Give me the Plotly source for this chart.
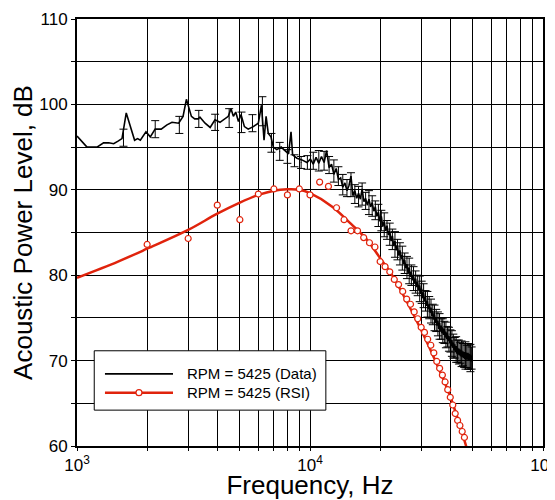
import plotly.graph_objects as go

# ---------------- data ----------------
# Measured spectrum (black line)
DATA_F = [1000, 1050, 1104, 1218, 1300, 1368, 1437, 1500, 1560, 1627, 1700, 1767, 1820, 1870,
          1977, 2063, 2165, 2298, 2433, 2557, 2731, 2852, 2948, 3020, 3097, 3200, 3310, 3370,
          3546, 3728, 3910, 4108, 4317, 4460, 4580, 4690, 4800, 4930, 5060, 5230, 5430, 5710,
          6000, 6190, 6350, 6480, 6620, 6800, 6960, 7200, 7520, 7840, 8090, 8290, 8420, 8790,
          9230, 9700, 10040,
          10328, 10620, 10911, 11203, 11494, 11786, 12077, 12369, 12660, 12952, 13243, 13535,
          13826, 14118, 14409, 14701, 14992, 15284, 15575, 15867, 16158, 16450, 16741, 17033,
          17324, 17616, 17907, 18199, 18490, 18782, 19073, 19365, 19656, 19948, 20239, 20531,
          20822, 21114, 21405, 21697, 21988, 22280, 22571, 22863, 23154, 23446, 23737, 24029,
          24320, 24612, 24903, 25195, 25486, 25778, 26069, 26361, 26652, 26944, 27235, 27527,
          27818, 28110, 28401, 28693, 28984, 29276, 29567, 29859, 30150, 30442, 30733, 31025,
          31316, 31608, 31899, 32191, 32482, 32774, 33065, 33357, 33648, 33940, 34231, 34523,
          34814, 35106, 35397, 35689, 35980, 36272, 36563, 36855, 37146, 37438, 37729, 38021,
          38312, 38604, 38895, 39187, 39478, 39770, 40061, 40353, 40644, 40936, 41227, 41519,
          41810, 42102, 42393, 42685, 42976, 43268, 43559, 43851, 44142, 44434, 44725, 45017,
          45308, 45600, 45891, 46183, 46474, 46766, 47057, 47349, 47640, 47932, 48223, 48515,
          48806, 49098, 49389, 49681]
DATA_DB = [96.3, 95.6, 95.0, 95.0, 95.5, 95.5, 95.4, 95.7, 96.0, 99.0, 97.2, 95.8, 96.0, 95.8,
           96.8, 96.2, 97.1, 97.1, 97.6, 97.9, 97.8, 98.6, 100.6, 99.5, 98.6, 98.3, 98.3, 98.5,
           97.8, 97.3, 98.2, 97.9, 98.3, 98.6, 99.5, 98.6, 99.1, 98.0, 98.8, 97.4, 97.1, 97.4,
           97.8, 99.9, 95.8, 98.6, 96.6, 96.2, 95.0, 94.7, 95.0, 94.5, 94.2, 96.8, 94.1, 93.7,
           93.5, 93.2, 93.6,
           93.0, 93.8, 93.1, 93.9, 93.2, 94.6, 92.6, 93.0, 91.8, 92.5, 91.2, 91.4,
           90.3, 90.8, 89.9, 90.5, 91.6, 89.3, 89.9, 89.0, 89.6, 88.9, 90.1, 88.6,
           89.0, 88.2, 88.9, 88.0, 88.5, 87.5, 88.0, 86.9, 87.4, 86.3, 86.9, 85.7,
           86.3, 85.2, 85.8, 84.7, 85.2, 84.0, 84.6, 83.4, 84.0, 82.9, 83.5, 82.3,
           82.9, 81.9, 82.4, 81.3, 81.8, 80.8, 81.3, 80.2, 80.9, 79.8, 80.4, 79.4,
           80.0, 79.0, 79.6, 78.6, 79.2, 78.2, 78.8, 77.8, 78.4, 77.3, 78.0, 76.9,
           77.4, 76.4, 77.0, 76.0, 76.6, 75.6, 76.2, 75.2, 75.8, 74.8, 75.4, 74.4,
           75.1, 74.1, 74.7, 73.7, 74.4, 73.4, 74.1, 73.2, 73.9, 73.0, 73.7, 72.7,
           73.4, 72.5, 73.2, 72.3, 72.9, 72.0, 72.7, 71.7, 72.4, 71.5, 72.1, 71.2,
           71.9, 71.0, 71.7, 70.8, 71.5, 70.7, 71.4, 70.6, 71.3, 70.5, 71.2, 70.4,
           71.1, 70.3, 71.0, 70.2, 71.0, 70.1, 70.9, 70.1, 70.9, 70.0, 70.8, 70.0,
           70.7, 69.9, 70.6, 70.0]

# Error-bar samples of the measured spectrum
ERR_F = [1583, 2166, 2749, 3332, 3915, 4498, 5081, 5664, 6247, 6830, 7413, 7996, 8579, 9162,
         9745, 10328, 10911, 11494, 12077, 12660, 13243, 13826, 14409, 14992, 15575, 16158,
         16741, 17324, 17907, 18490, 19073, 19656, 20239, 20822, 21405, 21988, 22571, 23154,
         23737, 24320, 24903, 25486, 26069, 26652, 27235, 27818, 28401, 28984, 29567, 30150,
         30733, 31316, 31899, 32482, 33065, 33648, 34231, 34814, 35397, 35980, 36563, 37146,
         37729, 38312, 38895, 39478, 40061, 40644, 41227, 41810, 42393, 42976, 43559, 44142,
         44725, 45308, 45891, 46474, 47057, 47640, 48223, 48806, 49389]
ERR_DB = [96.1, 97.1, 97.6, 98.3, 97.9, 98.4, 97.9, 97.8, 99.2, 95.5, 94.5, 93.9, 93.4, 93.2,
          93.2, 93.4, 93.4, 93.4, 92.9, 92.2, 91.6, 90.6, 90.2, 90.6, 89.5, 89.2,
          89.5, 88.7, 88.5, 88.1, 87.6, 87.0, 86.4, 85.9, 85.3, 84.8, 84.2, 83.6,
          83.0, 82.5, 82.0, 81.4, 80.9, 80.5, 80.0, 79.6, 79.2, 78.8, 78.4, 78.0,
          77.6, 77.0, 76.6, 76.2, 75.8, 75.4, 75.0, 74.7, 74.3, 74.0, 73.7, 73.5,
          73.3, 73.0, 72.8, 72.5, 72.3, 72.0, 71.7, 71.5, 71.3, 71.1, 71.0, 70.9,
          70.8, 70.7, 70.6, 70.6, 70.5, 70.5, 70.4, 70.3, 70.3]
ERR_E = [1.0, 1.0, 1.0, 1.0, 0.95, 1.1, 1.2, 1.0, 1.7, 1.1, 1.05, 0.8, 0.7, 0.7,
         0.8, 1.0, 1.2, 1.1, 1.0, 1.3, 1.1, 1.2, 1.0, 1.4, 1.1, 1.2,
         1.3, 1.0, 1.4, 1.2, 1.1, 1.3, 1.2, 1.4, 1.1, 1.3, 1.2, 1.5,
         1.2, 1.3, 1.4, 1.2, 1.3, 1.5, 1.2, 1.4, 1.3, 1.2, 1.5, 1.3,
         1.4, 1.2, 1.5, 1.3, 1.4, 1.2, 1.5, 1.3, 1.4, 1.5, 1.2, 1.4,
         1.3, 1.5, 1.2, 1.4, 1.3, 1.5, 1.4, 1.2, 1.5, 1.3, 1.4, 1.2,
         1.5, 1.3, 1.4, 1.6, 1.3, 1.5, 1.4, 1.6, 1.3]

# RSI prediction: points and smooth curve
RSI_F = [2000, 3000, 4000, 5000, 6000, 7000, 8000, 9000, 10000, 11000, 12000, 13000, 14000,
         15000, 16000, 17000, 18000, 19000, 20000, 21000, 22000, 23000, 24000, 25000, 26000,
         27000, 28000, 29000, 30000, 31000, 32000, 33000, 34000, 35000, 36000, 37000, 38000,
         39000, 40000, 41000, 42000, 43000, 44000, 45000, 46000]
RSI_DB = [83.6, 84.3, 88.2, 86.5, 89.5, 90.1, 89.4, 90.1, 89.4, 90.9, 90.4, 87.9, 86.5,
          85.2, 85.2, 84.4, 83.8, 83.3, 81.6, 81.0, 80.4, 79.5, 78.9, 78.1, 77.2,
          76.6, 75.7, 74.9, 73.9, 73.3, 72.5, 71.8, 70.9, 69.9, 69.1, 68.3, 67.5,
          66.6, 65.7, 64.8, 63.8, 63.0, 62.4, 61.7, 61.0]
CURVE_F = [1000, 1500, 2000, 3000, 4000, 5000, 6000, 7000, 8000, 9000, 10000, 12500, 15000,
           17500, 20000, 22500, 25000, 30000, 35000, 40000, 45000, 47000]
CURVE_DB = [79.7, 81.6, 83.1, 85.3, 87.2, 88.5, 89.4, 89.9, 90.05, 90.0, 89.6, 88.0, 86.0,
            84.2, 82.0, 80.0, 77.8, 73.6, 69.6, 65.8, 61.5, 59.8]

X_TICKS = [1000, 2000, 3000, 4000, 5000, 6000, 7000, 8000, 9000,
           10000, 20000, 30000, 40000, 50000, 60000, 70000, 80000, 90000, 100000]
X_TEXT = ["10<sup>3</sup>", " ", " ", " ", " ", " ", " ", " ", " ",
          "10<sup>4</sup>", " ", " ", " ", " ", " ", " ", " ", " ", "10<sup>5</sup>"]
Y_TICKS = [60, 65, 70, 75, 80, 85, 90, 95, 100, 105, 110]
Y_TEXT = ["60", " ", "70", " ", "80", " ", "90", " ", "100", " ", "110"]

LABEL_DATA = "RPM = 5425 (Data)"
LABEL_RSI = "RPM = 5425 (RSI)"

RED = "#e0230c"
FONT = "Liberation Sans, Arial, sans-serif"

fig = go.Figure()

fig.add_trace(go.Scatter(
    x=ERR_F, y=ERR_DB, mode="markers", showlegend=False, hoverinfo="skip",
    marker=dict(size=1, color="black"),
    error_y=dict(type="data", array=ERR_E, visible=True, color="black",
                 thickness=1, width=4)))

fig.add_trace(go.Scatter(
    x=DATA_F, y=DATA_DB, mode="lines", name=LABEL_DATA, showlegend=False,
    line=dict(color="black", width=1.6)))

fig.add_trace(go.Scatter(
    x=CURVE_F, y=CURVE_DB, mode="lines", line_shape="spline", showlegend=False,
    line=dict(color=RED, width=2.5)))

fig.add_trace(go.Scatter(
    x=RSI_F, y=RSI_DB, mode="markers", name=LABEL_RSI, showlegend=False,
    marker=dict(symbol="circle", size=6, color="white",
                line=dict(color=RED, width=1.2))))

# ---------------- legend box (drawn in paper coordinates) ----------------
LEG_X0, LEG_X1, LEG_Y0, LEG_Y1 = 0.037, 0.534, 0.084, 0.223
LEG_LINE_X0, LEG_LINE_X1, LEG_TEXT_X = 0.060, 0.206, 0.232
LEG_ROW_Y = [0.169, 0.125]

shapes = [
    dict(type="rect", xref="paper", yref="paper", x0=LEG_X0, x1=LEG_X1, y0=LEG_Y0, y1=LEG_Y1,
         line=dict(color="black", width=1), fillcolor="white", layer="above"),
    dict(type="line", xref="paper", yref="paper", x0=LEG_LINE_X0, x1=LEG_LINE_X1,
         y0=LEG_ROW_Y[0], y1=LEG_ROW_Y[0], line=dict(color="black", width=1.6), layer="above"),
    dict(type="line", xref="paper", yref="paper", x0=LEG_LINE_X0, x1=LEG_LINE_X1,
         y0=LEG_ROW_Y[1], y1=LEG_ROW_Y[1], line=dict(color=RED, width=2.5), layer="above"),
    dict(type="circle", xref="paper", yref="paper", xsizemode="pixel", ysizemode="pixel",
         xanchor=(LEG_LINE_X0 + LEG_LINE_X1) / 2, yanchor=LEG_ROW_Y[1],
         x0=-3, x1=3, y0=-3, y1=3, fillcolor="white",
         line=dict(color=RED, width=1.2), layer="above"),
]
annotations = [
    dict(xref="paper", yref="paper", x=LEG_TEXT_X, y=LEG_ROW_Y[0], text=LABEL_DATA,
         showarrow=False, xanchor="left", yanchor="middle", font=dict(size=15, family=FONT)),
    dict(xref="paper", yref="paper", x=LEG_TEXT_X, y=LEG_ROW_Y[1], text=LABEL_RSI,
         showarrow=False, xanchor="left", yanchor="middle", font=dict(size=15, family=FONT)),
]

# page body has an 8px margin: figure is 547x492 so it fills the 555x500 window
fig.update_layout(
    width=547, height=492,
    margin=dict(l=69, r=12, t=11, b=54),
    paper_bgcolor="white", plot_bgcolor="white",
    font=dict(family=FONT, color="black"),
    showlegend=False,
    shapes=shapes, annotations=annotations,
)

fig.update_xaxes(
    type="log", range=[3, 5], tickmode="array", tickvals=X_TICKS, ticktext=X_TEXT,
    ticks="outside", ticklen=3, tickcolor="black", tickwidth=1, tickangle=0,
    showgrid=True, gridcolor="black", gridwidth=1,
    showline=True, linecolor="black", linewidth=2, mirror=True,
    zeroline=False, tickfont=dict(size=17), automargin=False,
    ticklabeloverflow="allow",
    title=dict(text="Frequency, Hz", font=dict(size=26)))

fig.update_yaxes(
    range=[60, 110], tickmode="array", tickvals=Y_TICKS, ticktext=Y_TEXT,
    ticks="outside", ticklen=4, tickcolor="black", tickwidth=1, tickangle=0,
    showgrid=True, gridcolor="black", gridwidth=1,
    showline=True, linecolor="black", linewidth=2, mirror=True,
    zeroline=False, tickfont=dict(size=17), automargin=False,
    ticklabeloverflow="allow",
    title=dict(text="Acoustic Power Level, dB", font=dict(size=26), standoff=0))

fig.write_html("out.html")
